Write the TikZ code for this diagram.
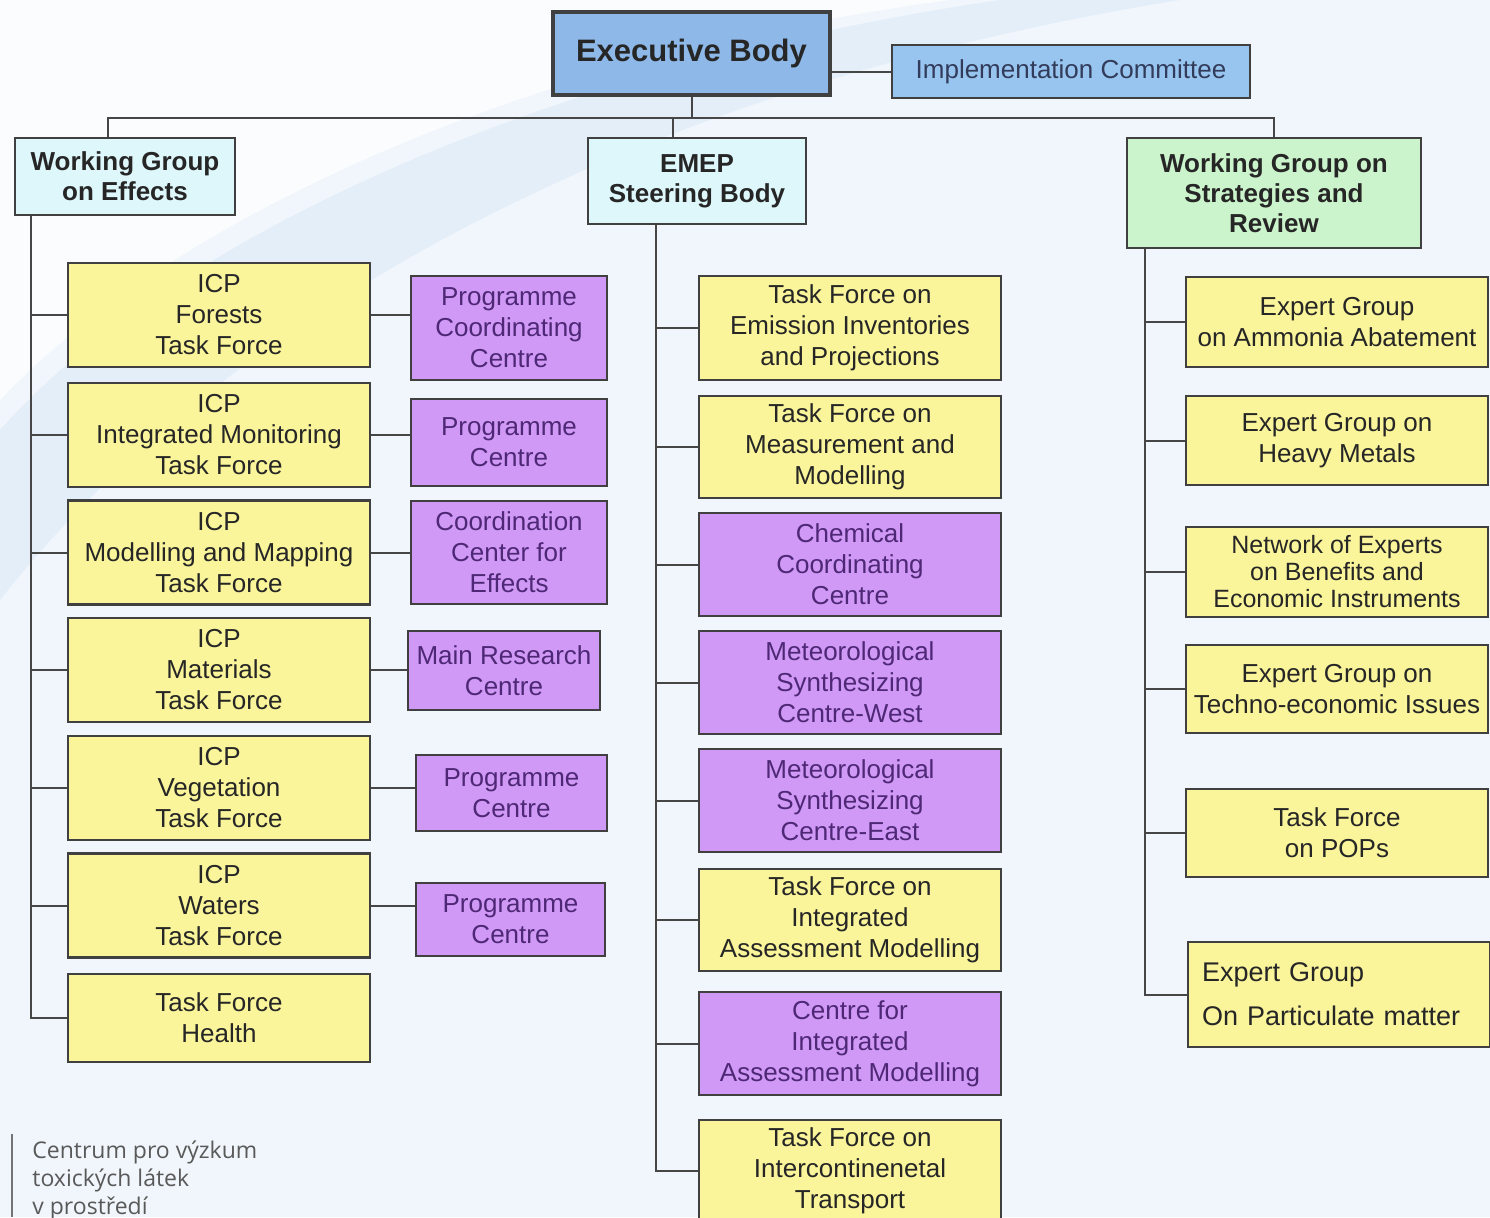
\documentclass[tikz,border=0pt]{standalone}
\usepackage{fontspec}
\setmainfont{Liberation Sans}
\newfontfamily\logofont{Open Sans}
\usepackage{xcolor}
\definecolor{execblue}{RGB}{141,184,232}
\definecolor{implblue}{RGB}{152,197,240}
\definecolor{impltext}{RGB}{50,60,90}
\definecolor{wgcyan}{RGB}{222,247,251}
\definecolor{wggreen}{RGB}{204,244,204}
\definecolor{tfyellow}{RGB}{250,245,155}
\definecolor{ccpurple}{RGB}{208,153,245}
\definecolor{cctext}{RGB}{78,40,118}
\definecolor{linegray}{RGB}{70,70,70}
\definecolor{bgblue}{RGB}{240,246,251}
\definecolor{swoosh}{RGB}{228,238,248}
\usepackage{tikz}
\usetikzlibrary{positioning, calc}

\begin{document}
\begin{tikzpicture}[
    x=0.5pt, y=-0.5pt,
    box/.style={rectangle, draw=black!75, line width=1.1pt, inner sep=2pt, align=center, font=\fontsize{13}{15.5}\selectfont, minimum width=151pt, minimum height=52pt},
    tfbox/.style={box, fill=tfyellow, text=black!85},
    ccbox/.style={box, fill=ccpurple, text=cctext},
    head/.style={box, text=black!85, font=\fontsize{13}{15}\selectfont\bfseries},
    link/.style={linegray, line width=1pt}
]
\useasboundingbox (0,0) rectangle (1490,1217);
\fill[bgblue] (0,0) rectangle (1490,1217);
\fill[swoosh] (0,430) .. controls (160,250) and (520,70) .. (1000,0) -- (1180,0) .. controls (620,90) and (220,320) .. (0,600) -- cycle;
\fill[white, opacity=0.7] (0,0) -- (0,400) .. controls (160,230) and (500,60) .. (950,0) -- cycle;

\node[box, fill=execblue, line width=2pt, minimum width=138.5pt, minimum height=41.5pt, text=black!85, font=\fontsize{15.5}{18}\selectfont\bfseries] (exec) at (691.5,53.5) {Executive Body};
\node[box, fill=implblue, minimum width=179pt, minimum height=26.5pt, text=impltext] (impl) at (1071,71.5) {Implementation Committee};
\node[head, fill=wgcyan, minimum width=110pt, minimum height=38.5pt] (wge) at (125,176.5) {Working Group\\on Effects};
\node[head, fill=wgcyan, minimum width=109pt, minimum height=43pt] (emep) at (697,181) {EMEP\\Steering Body};
\node[head, fill=wggreen, minimum width=147pt, minimum height=55pt] (wgs) at (1274,193) {Working Group on\\Strategies and\\Review};

\node[tfbox] (icpf) at (219,315) {ICP\\Forests\\Task Force};
\node[tfbox] (icpim) at (219,435) {ICP\\Integrated Monitoring\\Task Force};
\node[tfbox] (icpmm) at (219,552.5) {ICP\\Modelling and Mapping\\Task Force};
\node[tfbox] (icpmat) at (219,670) {ICP\\Materials\\Task Force};
\node[tfbox] (icpveg) at (219,788) {ICP\\Vegetation\\Task Force};
\node[tfbox] (icpw) at (219,905.5) {ICP\\Waters\\Task Force};
\node[tfbox, minimum height=44pt] (tfh) at (219,1018) {Task Force\\Health};

\node[ccbox, minimum width=98pt] (pccf) at (509,328) {Programme\\Coordinating\\Centre};
\node[ccbox, minimum width=98pt, minimum height=43.5pt] (pcim) at (509,442.5) {Programme\\Centre};
\node[ccbox, minimum width=98pt, minimum height=51.5pt] (cce) at (509,552.5) {Coordination\\Center for\\Effects};
\node[ccbox, minimum width=96pt, minimum height=39.5pt] (mrc) at (504,670.5) {Main Research\\Centre};
\node[ccbox, minimum width=95.5pt, minimum height=38pt] (pcveg) at (511.5,793) {Programme\\Centre};
\node[ccbox, minimum width=94.5pt, minimum height=36.5pt] (pcw) at (510.5,919.5) {Programme\\Centre};

\node[tfbox] (tfeip) at (850,328) {Task Force on\\Emission Inventories\\and Projections};
\node[tfbox, minimum height=51pt] (tfmm) at (850,447) {Task Force on\\Measurement and\\Modelling};
\node[ccbox, minimum height=51.5pt] (ccc) at (850,564.5) {Chemical\\Coordinating\\Centre};
\node[ccbox, minimum height=51.5pt] (mscw) at (850,682.5) {Meteorological\\Synthesizing\\Centre-West};
\node[ccbox, minimum height=51.5pt] (msce) at (850,800.5) {Meteorological\\Synthesizing\\Centre-East};
\node[tfbox, minimum height=51pt] (tfiam) at (850,920) {Task Force on\\Integrated\\Assessment Modelling};
\node[ccbox, minimum height=51.5pt] (ciam) at (850,1043.5) {Centre for\\Integrated\\Assessment Modelling};
\node[tfbox, minimum height=51pt] (tfhtap) at (850,1171) {Task Force on\\Intercontinenetal\\Transport};

\node[tfbox, minimum height=45pt] (egaa) at (1337,322) {Expert Group\\on Ammonia Abatement};
\node[tfbox, minimum height=44.5pt] (eghm) at (1337,440.5) {Expert Group on\\Heavy Metals};
\node[tfbox, minimum height=45pt, font=\fontsize{12.5}{13.5}\selectfont] (nebei) at (1337,572) {Network of Experts\\on Benefits and\\Economic Instruments};
\node[tfbox, minimum height=44pt] (egtei) at (1337,689) {Expert Group on\\Techno-economic Issues};
\node[tfbox, minimum height=44pt] (tfpops) at (1337,833) {Task Force\\on POPs};
\node[tfbox, align=left, text width=137pt, inner xsep=7pt, minimum height=52.5pt, font=\fontsize{13.5}{22}\selectfont] (egpm) at (1339,994.5) {Expert Group\\On Particulate matter};

\node[anchor=north west, inner sep=0pt, align=left, text=black!65, font=\logofont\fontsize{11.5}{14}\selectfont] (logo) at (32,1140) {Centrum pro výzkum\\toxických látek\\v prostředí};
\draw[black!55, line width=1pt] ([xshift=-10pt,yshift=3pt]logo.north west) -- ([xshift=-10pt]logo.north west |- 0,1217);

\coordinate (bus) at (0,118);
\draw[link] (exec.east |- impl) -- (impl);
\draw[link] (exec) -- (exec |- bus);
\draw[link] ([xshift=-8.5pt]wge.north) -- ([xshift=-8.5pt]wge.north |- bus) -- (wgs.north |- bus) -- (wgs.north);
\draw[link] ([xshift=-12pt]emep.north) -- ([xshift=-12pt]emep.north |- bus);

\coordinate (lsp) at ([xshift=8.5pt]wge.south west);
\draw[link] (lsp) |- (tfh.west);
\draw[link] (lsp |- icpf.west) -- (icpf.west);
\draw[link] (lsp |- icpim.west) -- (icpim.west);
\draw[link] (lsp |- icpmm.west) -- (icpmm.west);
\draw[link] (lsp |- icpmat.west) -- (icpmat.west);
\draw[link] (lsp |- icpveg.west) -- (icpveg.west);
\draw[link] (lsp |- icpw.west) -- (icpw.west);

\draw[link] (icpf.east) -- (icpf.east -| pccf.west);
\draw[link] (icpim.east) -- (icpim.east -| pcim.west);
\draw[link] (icpmm.east) -- (icpmm.east -| cce.west);
\draw[link] (icpmat.east) -- (icpmat.east -| mrc.west);
\draw[link] (icpveg.east) -- (icpveg.east -| pcveg.west);
\draw[link] (icpw.east) -- (icpw.east -| pcw.west);

\coordinate (msp) at ([xshift=34.5pt]emep.south west);
\draw[link] (msp) |- (tfhtap.west);
\draw[link] (msp |- tfeip.west) -- (tfeip.west);
\draw[link] (msp |- tfmm.west) -- (tfmm.west);
\draw[link] (msp |- ccc.west) -- (ccc.west);
\draw[link] (msp |- mscw.west) -- (mscw.west);
\draw[link] (msp |- msce.west) -- (msce.west);
\draw[link] (msp |- tfiam.west) -- (tfiam.west);
\draw[link] (msp |- ciam.west) -- (ciam.west);

\coordinate (rsp) at ([xshift=9.5pt]wgs.south west);
\draw[link] (rsp) |- (egpm.west);
\draw[link] (rsp |- egaa.west) -- (egaa.west);
\draw[link] (rsp |- eghm.west) -- (eghm.west);
\draw[link] (rsp |- nebei.west) -- (nebei.west);
\draw[link] (rsp |- egtei.west) -- (egtei.west);
\draw[link] (rsp |- tfpops.west) -- (tfpops.west);
\end{tikzpicture}
\end{document}
